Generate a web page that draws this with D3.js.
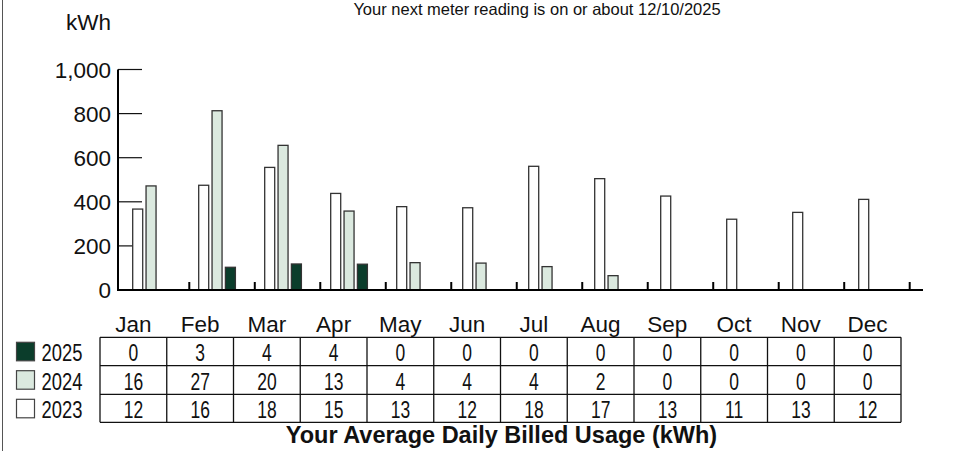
<!DOCTYPE html>
<html>
<head>
<meta charset="utf-8">
<script src="https://cdn.jsdelivr.net/npm/d3@7"></script>
<style>
  body { margin: 0; background: #fff; }
  svg { display: block; font-family: "Liberation Sans", Arial, sans-serif; }
</style>
</head>
<body>
<div id="chart"></div>
<script>
const w = 955;
const h = 451;

// Données
const months = ["Jan", "Feb", "Mar", "Apr", "May", "Jun", "Jul", "Aug", "Sep", "Oct", "Nov", "Dec"];
const years = ["2023", "2024", "2025"];
const usage2023 = [367, 475, 556, 438, 378, 373, 561, 505, 426, 321, 352, 411];
const usage2024 = [472, 813, 656, 358, 124, 122, 106, 65, null, null, null, null];
const usage2025 = [null, 103, 118, 117, null, null, null, null, null, null, null, null];
const daily2025 = [0, 3, 4, 4, 0, 0, 0, 0, 0, 0, 0, 0];
const daily2024 = [16, 27, 20, 13, 4, 4, 4, 2, 0, 0, 0, 0];
const daily2023 = [12, 16, 18, 15, 13, 12, 18, 17, 13, 11, 13, 12];
const yTicks = [0, 200, 400, 600, 800, 1000];
const title = "Your next meter reading is on or about 12/10/2025";
const footer = "Your Average Daily Billed Usage (kWh)";

const colors = { "2023": "#ffffff", "2024": "#dbe9df", "2025": "#0b3d2b" };

const svg = d3.select("#chart").append("svg")
  .attr("width", w)
  .attr("height", h);

// Cadre gauche
svg.append("line")
  .attr("x1", 2.5).attr("x2", 2.5)
  .attr("y1", 0).attr("y2", h)
  .attr("stroke", "#555").attr("stroke-width", 1);

// Titre
svg.append("text")
  .attr("x", 537).attr("y", 15)
  .attr("text-anchor", "middle")
  .attr("font-size", 16.5)
  .attr("fill", "#111")
  .text(title);

// Échelles
const y = d3.scaleLinear().domain([0, 1000]).range([290, 69.5]);
const x = d3.scaleBand().domain(months).range([123.2, 123.2 + 12 * 66]);
const xYear = d3.scaleBand().domain(years).range([0, 36.7]).paddingInner(0.25);
const sep = d3.scaleLinear().domain([0, 12]).range([123.8, 909.7]);

// Graduations de l'axe Y (derrière les barres)
svg.append("g")
  .selectAll("line")
  .data(yTicks.filter(d => d > 0))
  .join("line")
  .attr("x1", 118).attr("x2", 142)
  .attr("y1", d => y(d)).attr("y2", d => y(d))
  .attr("stroke", "#111").attr("stroke-width", 1.2);

svg.append("g")
  .selectAll("text")
  .data(yTicks)
  .join("text")
  .attr("x", 111)
  .attr("y", d => y(d) + 8)
  .attr("text-anchor", "end")
  .attr("font-size", 22.5)
  .attr("fill", "#111")
  .text(d => d3.format(",")(d));

svg.append("text")
  .attr("x", 111).attr("y", 30)
  .attr("text-anchor", "end")
  .attr("font-size", 22.5)
  .attr("fill", "#111")
  .text("kWh");

// Barres
const series = [
  { year: "2023", values: usage2023 },
  { year: "2024", values: usage2024 },
  { year: "2025", values: usage2025 }
];
const barData = [];
series.forEach(s => {
  s.values.forEach((v, i) => {
    if (v != null) barData.push({ year: s.year, month: months[i], value: v });
  });
});

svg.append("g")
  .selectAll("rect")
  .data(barData)
  .join("rect")
  .attr("x", d => x(d.month) + 9.5 + xYear(d.year))
  .attr("y", d => y(d.value))
  .attr("width", xYear.bandwidth())
  .attr("height", d => y(0) - y(d.value))
  .attr("fill", d => colors[d.year])
  .attr("stroke", "#333")
  .attr("stroke-width", 1.3);

// Axes
svg.append("line")
  .attr("x1", 118).attr("x2", 118)
  .attr("y1", y(1000)).attr("y2", y(0) + 1)
  .attr("stroke", "#000").attr("stroke-width", 2);
svg.append("line")
  .attr("x1", 117).attr("x2", 923)
  .attr("y1", y(0)).attr("y2", y(0))
  .attr("stroke", "#000").attr("stroke-width", 2);

// Séparateurs entre les mois
svg.append("g")
  .selectAll("line")
  .data(d3.range(1, 13))
  .join("line")
  .attr("x1", d => sep(d)).attr("x2", d => sep(d))
  .attr("y1", 282).attr("y2", 290)
  .attr("stroke", "#000").attr("stroke-width", 2);

// Tableau des moyennes journalières
const tableLeft = 100;
const tableRight = 901;
const rowTops = [337.3, 365.7, 394.3, 422.3];
const col = d3.scaleBand().domain(months).range([tableLeft, tableRight]);
const rows = [
  { year: "2025", values: daily2025 },
  { year: "2024", values: daily2024 },
  { year: "2023", values: daily2023 }
];

// Mois
svg.append("g")
  .selectAll("text")
  .data(months)
  .join("text")
  .attr("x", d => col(d) + col.bandwidth() / 2)
  .attr("y", 331.5)
  .attr("text-anchor", "middle")
  .attr("font-size", 22.5)
  .attr("fill", "#111")
  .text(d => d);

const grid = svg.append("g").attr("stroke", "#111").attr("stroke-width", 1.3);
rowTops.forEach(t => {
  grid.append("line").attr("x1", tableLeft).attr("x2", tableRight).attr("y1", t).attr("y2", t);
});
d3.range(0, 13).forEach(k => {
  const xx = tableLeft + k * col.step();
  grid.append("line").attr("x1", xx).attr("x2", xx).attr("y1", rowTops[0]).attr("y2", rowTops[3]);
});

rows.forEach((r, ri) => {
  const base = rowTops[ri + 1] - 4.6;

  // Légende
  svg.append("rect")
    .attr("x", 16.5).attr("y", rowTops[ri] + 5)
    .attr("width", 18).attr("height", 18.5)
    .attr("fill", colors[r.year])
    .attr("stroke", "#444").attr("stroke-width", 1.2);
  svg.append("text")
    .attr("transform", `translate(41.5,${base}) scale(0.8,1)`)
    .attr("font-size", 23)
    .attr("fill", "#111")
    .text(r.year);

  svg.append("g")
    .selectAll("text")
    .data(r.values)
    .join("text")
    .attr("transform", (d, i) => `translate(${col(months[i]) + col.bandwidth() / 2},${base}) scale(0.76,1)`)
    .attr("text-anchor", "middle")
    .attr("font-size", 23)
    .attr("fill", "#111")
    .text(d => d);
});

// Légende du tableau
svg.append("text")
  .attr("x", 501.5).attr("y", 443)
  .attr("text-anchor", "middle")
  .attr("font-size", 23.5)
  .attr("font-weight", "bold")
  .attr("fill", "#111")
  .text(footer);
</script>
</body>
</html>
